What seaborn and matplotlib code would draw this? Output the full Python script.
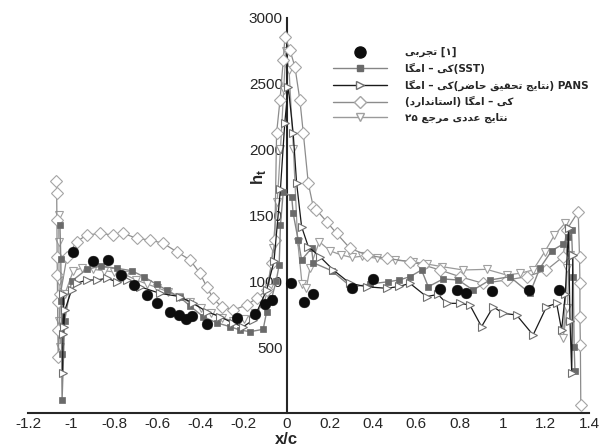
import matplotlib
matplotlib.use("Agg")
import matplotlib.pyplot as plt
import seaborn as sns
from matplotlib.lines import Line2D
from matplotlib.ticker import MultipleLocator, FixedLocator

# ------------ DATA ------------
# experiment [1]
x_exp = [-0.99, -0.90, -0.83, -0.77, -0.71, -0.65, -0.60, -0.54, -0.50, -0.47, -0.44, -0.37,
         -0.23, -0.15, -0.10, -0.07, 0.02, 0.08, 0.12, 0.30, 0.40, 0.71, 0.79, 0.83, 0.95, 1.12, 1.26]
y_exp = [1224, 1153, 1161, 1047, 969, 895, 832, 764, 744, 713, 736, 675,
         721, 752, 825, 860, 984, 840, 905, 946, 1017, 941, 933, 913, 925, 935, 930]

# k-omega SST
x_sst = [-1.052, -1.048, -1.046, -1.044, -1.042, -1.030, -0.998, -0.928, -0.862, -0.789, -0.720,
         -0.663, -0.604, -0.557, -0.496, -0.449, -0.388, -0.326, -0.264, -0.218, -0.171, -0.110,
         -0.094, -0.071, -0.050, -0.036, -0.030, -0.017, 0.022, 0.029, 0.052, 0.068, 0.114, 0.122,
         0.207, 0.300, 0.385, 0.470, 0.520, 0.570, 0.624, 0.655, 0.724, 0.794, 0.863, 0.941, 1.033,
         1.126, 1.172, 1.227, 1.280, 1.304, 1.319, 1.327, 1.331, 1.335]
y_sst = [1430, 1170, 850, 450, 100, 700, 1000, 1090, 1115, 1098, 1080,
         1034, 976, 933, 878, 812, 731, 685, 655, 630, 617, 635,
         769, 870, 1000, 1123, 1427, 1679, 1641, 1515, 1313, 1161, 1250, 1140,
         1080, 954, 979, 996, 1009, 1034, 1085, 958, 1017, 1009, 933, 1009, 1034,
         908, 1098, 1231, 1282, 1338, 1389, 1034, 503, 321]

# PANS k-omega (present work)
x_pans = [-1.040, -1.038, -1.036, -1.034, -1.029, -0.998, -0.975, -0.928, -0.882, -0.835, -0.789,
          -0.740, -0.681, -0.589, -0.496, -0.434, -0.372, -0.310, -0.249, -0.202, -0.156, -0.094,
          -0.060, -0.030, -0.010, 0.006, 0.029, 0.045, 0.068, 0.099, 0.153, 0.215, 0.292, 0.369,
          0.462, 0.520, 0.570, 0.647, 0.700, 0.740, 0.802, 0.848, 0.902, 0.956, 1.002, 1.064,
          1.141, 1.203, 1.250, 1.273, 1.290, 1.305, 1.312, 1.320, 1.325]
y_pans = [300, 600, 900, 650, 781, 933, 984, 1009, 1009, 1022, 996,
          1010, 958, 908, 883, 832, 769, 731, 681, 655, 706, 933,
          1150, 1700, 2200, 2476, 2122, 1743, 1414, 1262, 1186, 1085, 984, 958,
          946, 960, 984, 883, 900, 832, 832, 819, 655, 806, 756, 744,
          592, 806, 832, 630, 900, 1400, 700, 300, 1200]

# k-omega standard
x_std = [-1.068, -1.067, -1.066, -1.065, -1.064, -1.063, -1.062, -1.060, -1.050, -1.020, -0.975,
         -0.928, -0.866, -0.805, -0.758, -0.696, -0.635, -0.573, -0.511, -0.449, -0.403, -0.372,
         -0.342, -0.303, -0.249, -0.187, -0.140, -0.094, -0.071, -0.056, -0.048, -0.032, -0.017,
         -0.009, 0.014, 0.037, 0.060, 0.076, 0.099, 0.122, 0.137, 0.184, 0.230, 0.292, 0.369,
         0.462, 0.570, 0.632, 0.709, 0.802, 0.909, 1.018, 1.111, 1.203, 1.280, 1.296, 1.350,
         1.356, 1.358, 1.358, 1.360, 1.362]
y_std = [1760, 1667, 1464, 1186, 1050, 845, 630, 427, 900, 1180, 1300,
         1350, 1363, 1350, 1363, 1325, 1313, 1287, 1224, 1161, 1060, 958,
         870, 806, 781, 819, 870, 933, 1136, 1313, 2122, 2375, 2678,
         2855, 2754, 2627, 2375, 2122, 1743, 1565, 1540, 1452, 1363, 1250, 1199,
         1174, 1148, 1123, 1085, 1034, 984, 1009, 1034, 1085, 1186, 1389, 1527,
         1186, 984, 731, 516, 60]

# numerical results of ref. 25
x_ref = [-1.058, -1.057, -1.056, -1.055, -1.050, -1.030, -0.990, -0.950, -0.900, -0.850, -0.800,
         -0.750, -0.700, -0.650, -0.600, -0.550, -0.500, -0.450, -0.400, -0.350, -0.300, -0.250,
         -0.200, -0.150, -0.110, -0.085, -0.065, -0.045, -0.030, -0.015, -0.005, 0.010, 0.030,
         0.050, 0.070, 0.090, 0.107, 0.150, 0.200, 0.250, 0.300, 0.350, 0.416, 0.500, 0.585,
         0.650, 0.720, 0.817, 0.925, 1.018, 1.080, 1.141, 1.195, 1.240, 1.288, 1.300, 1.280,
         1.300, 1.310]
y_ref = [1500, 1300, 1000, 700, 500, 900, 1080, 1100, 1090, 1080, 1070,
         1050, 1010, 980, 950, 920, 880, 840, 800, 760, 720, 700,
         710, 760, 820, 950, 1250, 1600, 2000, 2450, 2750, 2600, 2000,
         1300, 980, 950, 1100, 1300, 1230, 1200, 1180, 1190, 1174, 1160, 1148,
         1130, 1110, 1085, 1090, 1047, 1060, 1085, 1224, 1350, 1439, 1100, 567,
         800, 1200]

x_ticks = [-1.2, -1, -0.8, -0.6, -0.4, -0.2, 0, 0.2, 0.4, 0.6, 0.8, 1, 1.2, 1.4]
y_ticks = [500, 1000, 1500, 2000, 2500, 3000]

# ------------ PERSIAN TEXT (manual shaping, matplotlib has none) ------------
AR_FORMS = {
    "\u0627": ("\uFE8D", "\uFE8E", None, None),      # alef
    "\u0628": ("\uFE8F", "\uFE90", "\uFE91", "\uFE92"),  # beh
    "\u062A": ("\uFE95", "\uFE96", "\uFE97", "\uFE98"),  # teh
    "\u062C": ("\uFE9D", "\uFE9E", "\uFE9F", "\uFEA0"),  # jeem
    "\u062D": ("\uFEA1", "\uFEA2", "\uFEA3", "\uFEA4"),  # hah
    "\u062F": ("\uFEA9", "\uFEAA", None, None),      # dal
    "\u0631": ("\uFEAD", "\uFEAE", None, None),      # reh
    "\u0633": ("\uFEB1", "\uFEB2", "\uFEB3", "\uFEB4"),  # seen
    "\u0636": ("\uFEBD", "\uFEBE", "\uFEBF", "\uFEC0"),  # dad
    "\u0639": ("\uFEC9", "\uFECA", "\uFECB", "\uFECC"),  # ain
    "\u0642": ("\uFED5", "\uFED6", "\uFED7", "\uFED8"),  # qaf
    "\u06A9": ("\uFB8E", "\uFB8F", "\uFB90", "\uFB91"),  # keheh
    "\u06AF": ("\uFB92", "\uFB93", "\uFB94", "\uFB95"),  # gaf
    "\u0645": ("\uFEE1", "\uFEE2", "\uFEE3", "\uFEE4"),  # meem
    "\u0646": ("\uFEE5", "\uFEE6", "\uFEE7", "\uFEE8"),  # noon
    "\u06CC": ("\uFBFC", "\uFBFD", "\uFBFE", "\uFBFF"),  # farsi yeh
}


def fa(word):
    word = word.replace("\u0643", "\u06A9").replace("\u064A", "\u06CC")
    chars = list(word)
    out = []
    for i, c in enumerate(chars):
        f = AR_FORMS.get(c)
        if f is None:
            out.append(c)
            continue
        prev = AR_FORMS.get(chars[i - 1]) if i > 0 else None
        nxt = AR_FORMS.get(chars[i + 1]) if i < len(chars) - 1 else None
        jp = prev is not None and prev[2] is not None
        jn = nxt is not None and f[2] is not None
        out.append(f[3] if (jp and jn) else f[1] if jp else f[2] if jn else f[0])
    return "".join(reversed(out))


# labels written in visual (left-to-right) order
lab_exp = fa("تجربی") + " [\u06F1]"
lab_sst = fa("امگا") + " \u2013 " + fa("کی") + "(SST)"
lab_pans = (fa("امگا") + " \u2013 " + fa("کی") + "(" + fa("حاضر") + " " + fa("تحقیق") + " "
            + fa("نتایج") + ") PANS")
lab_std = "(" + fa("استاندارد") + ") " + fa("امگا") + " \u2013 " + fa("کی")
lab_ref = "\u06F2\u06F5 " + fa("مرجع") + " " + fa("عددی") + " " + fa("نتایج")

# ------------ PLOT ------------
sns.set_style("white")
plt.rcParams["font.family"] = ["DejaVu Sans"]

fig = plt.figure(figsize=(6.13, 4.46), dpi=100)
ax = fig.add_axes([28 / 613, 33 / 446, 561 / 613, 395.4 / 446])

c_sst_line, c_sst_mk = "#858585", "#6a6a6a"
c_std = "#8c8c8c"
c_ref = "#9a9a9a"

sns.lineplot(x=x_ref, y=y_ref, sort=False, estimator=None, ax=ax, color=c_ref, linewidth=0.9,
             marker="v", markersize=6, markerfacecolor="white", markeredgecolor="#a0a0a0",
             markeredgewidth=0.8, legend=False, zorder=2)
sns.lineplot(x=x_std, y=y_std, sort=False, estimator=None, ax=ax, color=c_std, linewidth=0.9,
             marker="D", markersize=6, markerfacecolor="white", markeredgecolor="#a5a5a5",
             markeredgewidth=0.8, legend=False, zorder=3)
sns.lineplot(x=x_sst, y=y_sst, sort=False, estimator=None, ax=ax, color=c_sst_line, linewidth=1.0,
             marker="s", markersize=5, markerfacecolor=c_sst_mk, markeredgecolor=c_sst_mk,
             markeredgewidth=0.5, legend=False, zorder=4)
sns.lineplot(x=x_pans, y=y_pans, sort=False, estimator=None, ax=ax, color="#1a1a1a", linewidth=0.9,
             marker=">", markersize=6, markerfacecolor="white", markeredgecolor="#707070",
             markeredgewidth=0.8, legend=False, zorder=5)
sns.scatterplot(x=x_exp, y=y_exp, ax=ax, color="#0d0d0d", s=60, edgecolor="#0d0d0d",
                linewidth=0.3, legend=False, zorder=6)

ax.set_xlim(-1.2, 1.4)
ax.set_ylim(0, 3000)

for s in ["top", "right"]:
    ax.spines[s].set_visible(False)
ax.spines["left"].set_position(("data", 0))
ax.spines["left"].set_linewidth(1.5)
ax.spines["bottom"].set_linewidth(1.5)

ax.xaxis.set_major_locator(FixedLocator(x_ticks))
ax.xaxis.set_minor_locator(MultipleLocator(0.04))
ax.yaxis.set_major_locator(FixedLocator(y_ticks))
ax.yaxis.set_minor_locator(MultipleLocator(100))
ax.set_xticklabels([f"{t:g}" for t in x_ticks], family="Liberation Sans", fontsize=11)
ax.set_yticklabels([str(t) for t in y_ticks], family="Liberation Sans", fontsize=11)
ax.tick_params(axis="x", which="major", direction="in", length=7, width=1.3, pad=3)
ax.tick_params(axis="x", which="minor", direction="in", length=4, width=1.0)
ax.tick_params(axis="y", which="major", direction="in", length=9, width=1.3, pad=3)
ax.tick_params(axis="y", which="minor", direction="in", length=5, width=1.0)

ax.set_xlabel("")
ax.set_ylabel("")
ax.text(0, -0.068, "x/c", transform=ax.get_xaxis_transform(), ha="center", va="center",
        fontsize=12, fontweight="bold", family="Liberation Sans")
ax.text(-0.13, 1790, "h$_\\mathregular{t}$", rotation=90, ha="center", va="center",
        fontsize=12, fontweight="bold", family="Liberation Sans")

handles = [
    Line2D([], [], linestyle="none", marker="o", markersize=8, color="#0d0d0d"),
    Line2D([], [], color=c_sst_line, linewidth=1.0, marker="s", markersize=5,
           markerfacecolor=c_sst_mk, markeredgecolor=c_sst_mk),
    Line2D([], [], color="#1a1a1a", linewidth=1.0, marker=">", markersize=6,
           markerfacecolor="white", markeredgecolor="#707070"),
    Line2D([], [], color=c_std, linewidth=1.0, marker="D", markersize=6,
           markerfacecolor="white", markeredgecolor="#a5a5a5"),
    Line2D([], [], color=c_ref, linewidth=1.0, marker="v", markersize=6,
           markerfacecolor="white", markeredgecolor="#a0a0a0"),
]
labels = [lab_exp, lab_sst, lab_pans, lab_std, lab_ref]
fig.legend(handles, labels, loc="upper left", bbox_to_anchor=(328 / 613, 1 - 42 / 446),
           frameon=False, borderpad=0, handlelength=5.2, handletextpad=1.7, labelspacing=0.52,
           prop={"family": "DejaVu Sans", "size": 7.5, "weight": "bold"})

fig.savefig("out.png", dpi=100, facecolor="white")
